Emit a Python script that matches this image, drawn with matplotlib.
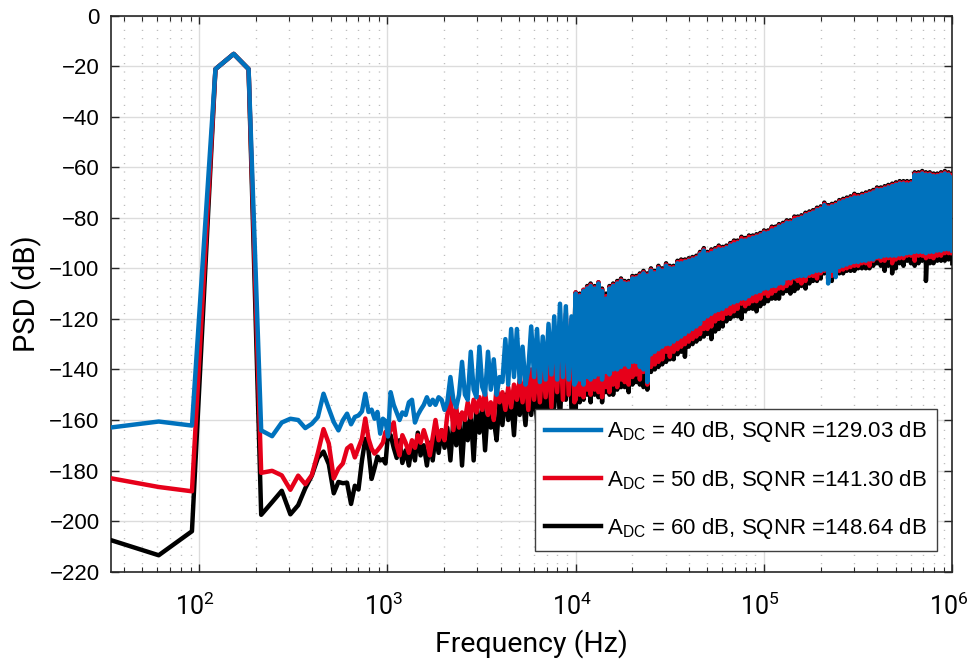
import matplotlib

matplotlib.use("Agg")
import matplotlib.pyplot as plt
from matplotlib.ticker import LogLocator, NullLocator, NullFormatter
from matplotlib.transforms import ScaledTranslation

plt.rcParams["font.family"] = ["Liberation Sans", "DejaVu Sans"]
plt.rcParams["axes.unicode_minus"] = True

LABEL_FONT = ["Roboto", "Liberation Sans", "DejaVu Sans"]

# FFT bins below 1 kHz (Hz)
f_low = [30.5, 61.0, 91.6, 122.1, 152.6, 183.1, 213.6, 244.1, 274.7, 305.2,
         335.7, 366.2, 396.7, 427.2, 457.8, 488.3, 518.8, 549.3, 579.8, 610.4,
         640.9, 671.4, 701.9, 732.4, 762.9, 793.5, 824.0, 854.5, 885.0, 915.5,
         946.0, 976.6, 1007.1]
psd40_low = [-163.4, -160.6, -162.2, -21.2, -15.2, -21.2, -164.1, -166.4, -161, -159.5,
             -160, -163.2, -161.5, -158.8, -149.6, -155.5, -160.8, -164.1, -160.1, -157.5,
             -161.7, -158.8, -158.2, -156.6, -149.6, -156.8, -155.9, -159.5, -156.8, -165.4,
             -159.5, -160.4, -166.5]
psd50_low = [-182.4, -186.5, -188.2, -21.2, -15.2, -21.2, -180.9, -180.1, -181.9, -187.6,
             -182, -185.4, -181.8, -173, -163.6, -169.3, -183.1, -179.2, -177.2, -171.3,
             -170, -174.8, -171, -167.4, -159.4, -167.4, -171.3, -173.3, -172, -170.6,
             -169, -164.7, -166]
psd60_low = [-206.4, -213.5, -204, -21.2, -15.2, -21.2, -197.5, -192.5, -188, -197.3,
             -193.7, -187, -182, -175, -172.5, -177.5, -189, -184.5, -185, -184.8,
             -193.2, -186, -187.5, -176, -167.5, -172, -183.3, -179, -174.5, -176,
             -175.5, -177.2, -165.5]

# 1 kHz .. 10 kHz (Hz)
f_mid = [1040, 1080, 1120, 1160, 1200, 1250, 1300, 1350, 1400, 1450,
         1500, 1560, 1620, 1680, 1740, 1800, 1870, 1940, 2010, 2080,
         2160, 2240, 2320, 2400, 2490, 2580, 2670, 2770, 2870, 2970,
         3080, 3190, 3300, 3420, 3540, 3670, 3800, 3940, 4080, 4230,
         4380, 4540, 4700, 4870, 5040, 5220, 5410, 5600, 5800, 6010,
         6230, 6450, 6680, 6920, 7170, 7430, 7690, 7970, 8250, 8550,
         8860, 9170, 9500, 9840]
psd40_mid = [-149, -154, -157, -160, -157, -158, -153, -152, -161, -158,
             -156, -154, -151, -154, -152, -154, -151, -152, -156, -153,
             -143, -152, -155, -150, -137, -150, -152, -133, -148, -151,
             -131, -147, -150, -133, -148, -136, -150, -143, -145, -128,
             -146, -124, -143, -124, -145, -131, -146, -140, -123, -143,
             -124, -145, -127, -144, -122, -142, -119, -144, -114, -143,
             -115, -144, -119, -146]
psd50_mid = [-164, -161, -170, -174, -166, -169, -173, -168, -171, -166,
             -169, -164, -168, -174, -167, -160, -168, -164, -168, -158,
             -151, -164, -155, -163, -157, -160, -153, -159, -152, -157,
             -151, -156, -149, -158, -153, -160, -147, -153, -149, -156,
             -147, -155, -146, -152, -144, -153, -141, -156, -140, -152,
             -139, -153, -137, -151, -135, -155, -130, -149, -125, -152,
             -118, -150, -120, -153]
psd60_mid = [-166, -171, -175, -168, -177, -172, -178, -170, -176, -165,
             -174, -170, -178, -169, -176, -166, -173, -164, -171, -163,
             -176, -160, -170, -158, -178, -160, -168, -157, -176, -156,
             -165, -154, -172, -155, -163, -160, -168, -152, -162, -150,
             -160, -152, -166, -148, -158, -151, -162, -146, -158, -148,
             -160, -143, -163, -145, -158, -140, -155, -138, -160, -132,
             -152, -128, -156, -124]

# 10 kHz .. 1 MHz (kHz): the trace swings between a top and a bottom value
# at every one of these frequencies (dense noise band)
f_band_khz = [10.0, 10.5, 11.0, 11.5, 12.0, 12.6, 13.2, 13.8, 14.5, 15.1,
              15.8, 16.6, 17.4, 18.2, 19.1, 20.0, 20.9, 21.9, 22.9, 24.0,
              25.1, 26.3, 27.5, 28.8, 30.2, 31.6, 33.1, 34.7, 36.3, 38.0,
              39.8, 41.7, 43.7, 45.7, 47.9, 50.1, 52.5, 55.0, 57.5, 60.3,
              63.1, 66.1, 69.2, 72.4, 75.9, 79.4, 83.2, 87.1, 91.2, 95.5,
              100, 105, 110, 115, 120, 126, 132, 138, 145, 151,
              158, 166, 174, 182, 191, 200, 209, 219, 229, 240,
              251, 263, 275, 288, 302, 316, 331, 347, 363, 380,
              398, 417, 437, 457, 479, 501, 525, 550, 575, 603,
              631, 661, 692, 724, 759, 794, 832, 871, 912, 955,
              1000]
psd40_top = [-110, -111, -109, -108, -107, -108, -106, -109, -112, -108,
             -107, -106, -105, -106, -106, -104, -104, -103, -102, -103,
             -101, -102, -100, -101, -99, -100, -100, -98, -98, -97.5,
             -97, -96.5, -96, -94.5, -93, -94.5, -94, -93, -92.5, -92.5,
             -92, -91, -90.5, -90, -89, -89, -88.5, -88, -87.5, -87,
             -86, -86, -85, -84.5, -83.5, -83, -82, -82, -81, -80.5,
             -80, -79, -78.5, -78, -77, -76.5, -75, -76, -75.5, -75,
             -74, -73.5, -73, -72.5, -72, -72, -71.5, -71, -70.5, -70,
             -69, -69, -68.5, -68, -67.5, -67, -66.5, -66.5, -66.8, -66.5,
             -63, -63, -62.5, -63, -63, -63.5, -63.5, -63, -62.5, -63,
             -64]
psd40_bot = [-145, -144, -146, -143, -144, -143, -142, -144, -141, -142,
             -140, -140, -139, -138, -139, -137, -137, -139, -140, -145,
             -134, -133, -132, -131, -130, -130, -129, -128, -127, -126,
             -125, -124, -123, -122, -120, -119, -118, -117, -116.5, -116,
             -115, -114, -113.5, -113, -112, -112, -111, -110, -109.5, -109,
             -108, -108, -107, -107, -106, -106, -104, -104, -103.5, -103,
             -103, -103, -102, -101.5, -101, -101, -100.5, -106, -101, -103.5,
             -99.5, -99, -98.5, -98, -97.5, -97.5, -97, -97, -96.5, -96.5,
             -95.5, -95.5, -95, -95, -95, -95, -94.5, -94.5, -94, -94,
             -93.5, -93.5, -93.5, -94, -93.5, -93.5, -93, -93, -92.5, -92.5,
             -93]
psd50_top = [-109.5, -110.5, -108.5, -107.5, -106.5, -107.5, -105.5, -108.5, -111, -107.5,
             -106.5, -105.5, -104.5, -105.5, -105.5, -103.5, -103.5, -102.5, -101.5, -102.5,
             -100.5, -101.5, -99.5, -100.5, -98.5, -99.5, -99.5, -97.5, -97, -97,
             -96.5, -96, -95.5, -94, -92.5, -94, -93, -92.5, -91.5, -92,
             -91.5, -90.5, -89.5, -89.5, -88, -88.5, -87.5, -87.5, -87, -86.5,
             -85.5, -85.5, -84, -84, -83, -82.5, -81.5, -81.5, -80, -80,
             -79.5, -78.5, -78, -77.5, -76.5, -76, -74.5, -75.5, -75, -74.5,
             -73.5, -73, -72.5, -72, -71, -71.5, -71, -70.5, -70, -69.5,
             -68.5, -68.5, -68, -67.5, -67, -66.5, -66, -66, -66, -66,
             -62.5, -62.5, -62, -62.5, -62.5, -63, -63, -62.5, -62, -62.5,
             -63]
psd50_bot = [-152, -150, -151, -148, -150, -148, -149, -151, -147, -149,
             -146, -147, -144, -145, -146, -143, -142, -144, -141, -146,
             -139, -138, -137, -136, -133, -135, -133, -132, -131, -130,
             -129, -128, -127, -126, -124, -124, -123, -121, -120, -120,
             -118, -118, -117, -116, -114, -115, -114, -113, -113, -112,
             -110, -111, -110, -109, -108, -108, -107, -106, -104, -105,
             -106, -105, -103, -103, -104, -102, -101, -104, -103, -102,
             -101, -100.5, -100, -99.5, -99, -99, -98, -98, -99, -97,
             -96, -97, -97, -96, -98, -96.5, -96, -96, -95, -95,
             -97, -95, -95, -96, -95.5, -96, -95, -95, -94, -94,
             -94]
psd60_top = [-109.5, -110, -108.5, -107, -106, -107, -105.5, -108, -110, -107,
             -106, -105, -104, -105, -105, -103, -103, -102, -101, -102,
             -100, -101, -99, -100, -98, -99, -99, -97, -96.5, -96.5,
             -96, -95.5, -95, -93.5, -92, -93.5, -92.5, -92, -91, -91.5,
             -91, -90, -89, -89, -87.5, -88, -87, -87, -86.5, -86,
             -85, -85, -83.5, -83.5, -82.5, -82, -81, -81, -79.5, -79.5,
             -79, -78, -77.5, -77, -76, -75.5, -74, -75, -74.5, -74,
             -73, -72.5, -72, -71.5, -70.5, -71, -70.5, -70, -69.5, -69,
             -68, -68, -67.5, -67, -66.5, -66, -65.5, -65.5, -65.5, -65.5,
             -62, -62, -61.5, -62, -62, -62.5, -62.5, -62, -61.5, -62,
             -62.5]
psd60_bot = [-156, -153, -152, -150, -153, -150, -151, -153, -149, -150,
             -150, -148, -147, -147, -149, -146, -145, -146, -147, -148,
             -141, -140, -139, -138, -137, -136, -136, -134, -133, -135,
             -131, -130, -129, -128, -127, -126, -128, -125, -124, -123,
             -121, -120, -119, -119, -120, -117, -116, -116, -117, -115,
             -114, -113, -112, -112, -112, -110, -109, -110, -109, -108,
             -107, -108, -106, -105, -105, -104, -102, -104, -105, -103,
             -102, -102, -101, -101, -101, -100, -100, -100, -100, -99,
             -98, -99, -101, -99, -102, -100, -98, -99, -97, -98,
             -99, -98, -97, -105, -98, -98, -97, -97, -97, -96.5,
             -98]

legend_labels = [
    r"A$_{\mathregular{DC}}$ = 40 dB, SQNR =129.03 dB",
    r"A$_{\mathregular{DC}}$ = 50 dB, SQNR =141.30 dB",
    r"A$_{\mathregular{DC}}$ = 60 dB, SQNR =148.64 dB",
]


def trace(f_lo, v_lo, f_md, v_md, top, bot):
    # low and mid parts point by point, then top/bottom pair per band frequency
    fx = list(f_lo) + list(f_md)
    vy = list(v_lo) + list(v_md)
    for f, t, b in zip(f_band_khz, top, bot):
        fx += [f * 1e3, f * 1e3]
        vy += [t, b]
    return fx, vy


f40, v40 = trace(f_low, psd40_low, f_mid, psd40_mid, psd40_top, psd40_bot)
f50, v50 = trace(f_low, psd50_low, f_mid, psd50_mid, psd50_top, psd50_bot)
f60, v60 = trace(f_low, psd60_low, f_mid, psd60_mid, psd60_top, psd60_bot)

fig = plt.figure(figsize=(9.69, 6.71), dpi=100)
ax = fig.add_axes([0.1142, 0.148, 0.8686, 0.8289])

l60, = ax.plot(f60, v60, color="k", lw=3.2, zorder=3)
l50, = ax.plot(f50, v50, color="#e6001a", lw=3.2, zorder=4)
l40, = ax.plot(f40, v40, color="#0072bd", lw=3.2, zorder=5)

ax.set_xscale("log")
ax.set_xlim(33.9, 1e6)
ax.set_ylim(-220, 0)
ax.set_yticks(range(-220, 1, 20))
ax.yaxis.set_minor_locator(NullLocator())
ax.set_xticks([1e2, 1e3, 1e4, 1e5, 1e6])
ax.set_xticklabels([r"$\mathregular{10^{%d}}$" % p for p in range(2, 7)],
                   fontfamily=LABEL_FONT, fontsize=18)
ax.xaxis.set_minor_locator(LogLocator(base=10, subs=range(2, 10), numticks=100))
ax.xaxis.set_minor_formatter(NullFormatter())

ax.set_axisbelow(True)
ax.grid(which="major", color="#dcdcdc", lw=1.0, ls="-")
ax.grid(which="minor", axis="x", color="#b0b0b0", lw=1.0, ls=(0, (0.7, 5.3)))

ax.tick_params(which="both", direction="in", top=True, right=True, color="#262626")
ax.tick_params(which="major", length=6, width=1.0)
ax.tick_params(which="minor", length=3.5, width=0.8)
ax.tick_params(axis="y", labelsize=16, pad=8)
ax.tick_params(axis="x", pad=15)
for s in ax.spines.values():
    s.set_color("#262626")
    s.set_linewidth(1.2)

# MATLAB puts the power labels a touch left of the tick (done after tick_params,
# which would reset the label transforms)
shift = ScaledTranslation(-4 / 100, 0, fig.dpi_scale_trans)
for tick in ax.xaxis.get_major_ticks():
    tick.label1.set_transform(tick.label1.get_transform() + shift)

ax.set_xlabel("Frequency (Hz)", fontsize=20.5, fontfamily=LABEL_FONT, labelpad=7)
ax.set_ylabel("PSD (dB)", fontsize=21, fontfamily=LABEL_FONT, labelpad=5)

leg = ax.legend([l40, l50, l60], legend_labels, loc="lower right",
                bbox_to_anchor=(937 / 969, 1 - 551 / 671), bbox_transform=fig.transFigure,
                fontsize=16, frameon=True, fancybox=False, framealpha=1,
                edgecolor="#404040", borderaxespad=0, handlelength=2.5,
                handletextpad=0.3, labelspacing=1.05, borderpad=0.45)
leg.get_frame().set_linewidth(1.0)
leg.set_zorder(10)

fig.savefig("out.png", dpi=100)
plt.close(fig)
